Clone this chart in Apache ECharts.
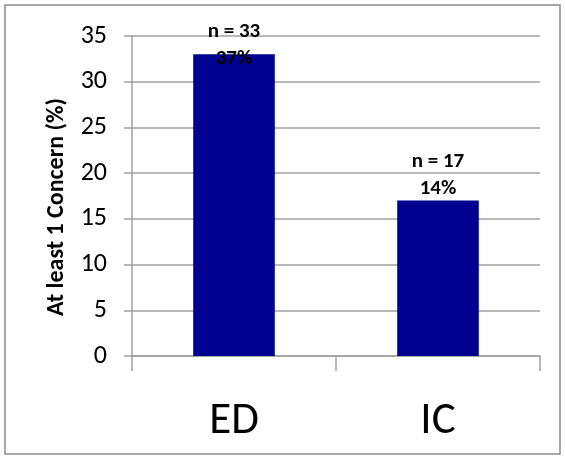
<!DOCTYPE html>
<html>
<head>
<meta charset="utf-8">
<script src="https://cdn.jsdelivr.net/npm/echarts@6/dist/echarts.min.js"></script>
<style>
html,body{margin:0;padding:0;background:#fff;}
#main{width:565px;height:459px;}
</style>
</head>
<body>
<div id="main"></div>
<script>
var categories = ['ED', 'IC'];
var values = [33, 17];
var countLabels = ['n = 33', 'n = 17'];
var pctLabels = ['37%', '14%'];
var labelOffsets = [[0, 18], [0, 2]];

var font = "Carlito, Calibri, Lato, 'Noto Sans', sans-serif";
var seriesData = [];
for (var i = 0; i < values.length; i++) {
    seriesData.push({
        value: values[i],
        label: {offset: labelOffsets[i]}
    });
}

var myChart = echarts.init(document.getElementById('main'));
var option = {
    animation: false,
    backgroundColor: '#fff',
    graphic: [{
        type: 'rect',
        shape: {x: 5, y: 5, width: 555, height: 449},
        style: {fill: 'none', stroke: '#8c8c8c', lineWidth: 1.5}
    }],
    grid: {left: 132, right: 25, top: 36, bottom: 103},
    xAxis: {
        type: 'category',
        data: categories,
        axisLine: {lineStyle: {color: '#a0a0a0', width: 1.5}},
        axisTick: {show: true, length: 15, lineStyle: {color: '#a0a0a0', width: 1.5}},
        axisLabel: {color: '#000', fontSize: 45, fontFamily: font, margin: 43}
    },
    yAxis: {
        type: 'value',
        min: 0,
        max: 35,
        interval: 5,
        name: 'At least 1 Concern (%)',
        nameLocation: 'middle',
        nameGap: 63,
        nameRotate: 90,
        nameTextStyle: {color: '#000', fontSize: 24, fontWeight: 'bold', fontFamily: font, padding: [0, 22, 0, 0]},
        axisLine: {show: true, lineStyle: {color: '#a0a0a0', width: 1.5}},
        axisTick: {show: true, length: 8, lineStyle: {color: '#a0a0a0', width: 1.5}},
        axisLabel: {color: '#000', fontSize: 26, fontFamily: font, margin: 25},
        splitLine: {lineStyle: {color: '#a0a0a0', width: 1.5}}
    },
    series: [{
        type: 'bar',
        data: seriesData,
        barWidth: '40%',
        itemStyle: {color: '#000091'},
        label: {
            show: true,
            position: 'top',
            distance: 0,
            formatter: function (p) {
                return countLabels[p.dataIndex] + '\n' + pctLabels[p.dataIndex];
            },
            color: '#000',
            fontSize: 21,
            fontWeight: 'bold',
            lineHeight: 27,
            fontFamily: font
        }
    }]
};
myChart.setOption(option);
</script>
</body>
</html>
